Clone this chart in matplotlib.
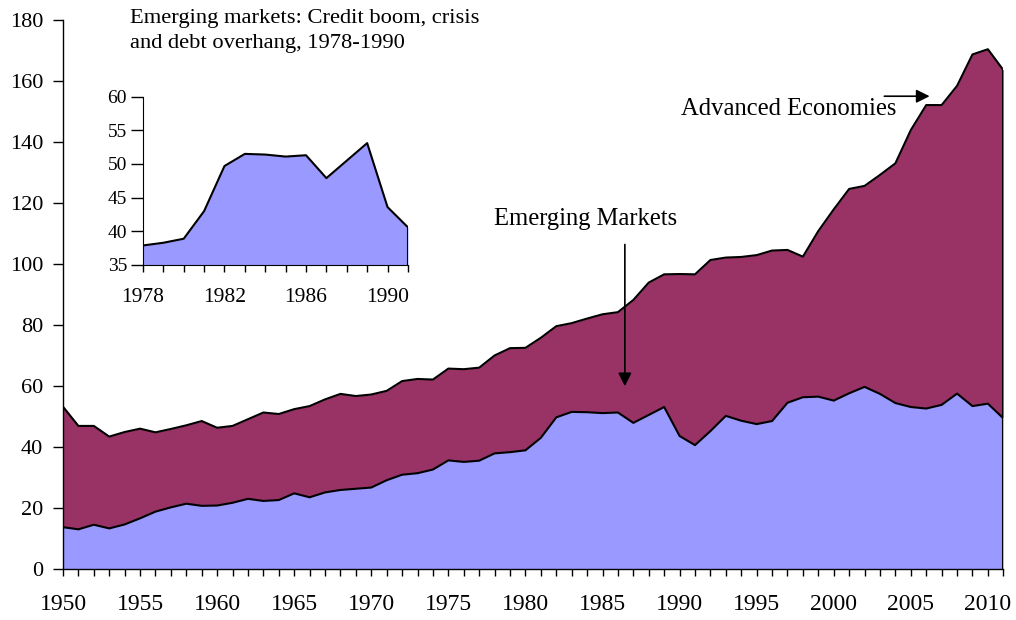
import matplotlib
matplotlib.use("Agg")
import matplotlib.pyplot as plt
import numpy as np

years = list(range(1950, 2012))
emerging = [13.7, 13.0, 14.5, 13.3, 14.6, 16.6, 18.8, 20.2, 21.4, 20.7,
            20.8, 21.7, 23.0, 22.3, 22.6, 24.8, 23.5, 25.1, 25.9, 26.3,
            26.7, 29.1, 30.9, 31.4, 32.6, 35.6, 35.1, 35.5, 37.9, 38.3,
            38.9, 43.0, 49.7, 51.5, 51.4, 51.1, 51.3, 47.9, 50.5, 53.1,
            43.6, 40.6, 45.2, 50.2, 48.6, 47.5, 48.5, 54.5, 56.3, 56.5,
            55.2, 57.6, 59.7, 57.4, 54.4, 53.1, 52.6, 53.8, 57.5, 53.4,
            54.2, 49.4]
total = [53.2, 46.9, 46.9, 43.4, 44.9, 46.0, 44.8, 45.9, 47.1, 48.5,
         46.3, 46.9, 49.1, 51.3, 50.8, 52.4, 53.4, 55.6, 57.4, 56.7,
         57.2, 58.4, 61.6, 62.3, 62.1, 65.7, 65.5, 66.0, 70.0, 72.4,
         72.5, 75.8, 79.6, 80.6, 82.1, 83.5, 84.2, 88.2, 93.9, 96.6,
         96.7, 96.6, 101.3, 102.1, 102.3, 102.9, 104.4, 104.6, 102.4, 110.8,
         117.9, 124.6, 125.6, 129.2, 133.0, 143.9, 152.1, 152.1, 158.4, 168.7,
         170.4, 163.6]
inset_start, inset_end = 1978, 1991
main_xlabels = [1950, 1955, 1960, 1965, 1970, 1975, 1980, 1985, 1990, 1995, 2000, 2005, 2010]
inset_xlabels = [1978, 1982, 1986, 1990]

BLUE = "#9999FF"
MAROON = "#993366"
plt.rcParams['font.family'] = ['Liberation Serif', 'DejaVu Serif']

fig = plt.figure(figsize=(10.16, 6.2), dpi=100)
ax = fig.add_axes([0.062, 0.0823, 0.9255, 0.8855])
x = np.array(years)
em = np.array(emerging)
tot = np.array(total)
ax.fill_between(x, em, tot, color=MAROON, lw=0)
ax.fill_between(x, 0, em, color=BLUE, lw=0)
ax.plot(x, tot, color='black', lw=1.5)
ax.plot(x, em, color='black', lw=1.5)
ax.plot([x[-1], x[-1]], [0, tot[-1]], color='black', lw=1.5)
ax.set_xlim(1950, 2011)
ax.set_ylim(0, 180)
ax.set_yticks(range(0, 181, 20))
ax.set_xticks(years, minor=True)
ax.set_xticks(main_xlabels)
ax.tick_params(axis='both', which='both', direction='out', width=1, colors='black')
ax.tick_params(axis='x', which='both', length=5)
ax.tick_params(axis='x', labelsize=17, pad=13)
ax.tick_params(axis='y', length=7.2, labelsize=16, pad=7)
for s in ['top', 'right']:
    ax.spines[s].set_visible(False)
ax.spines['left'].set_linewidth(1)
ax.spines['bottom'].set_linewidth(1)

ax.annotate("", xy=(1986.45, 59.0), xytext=(1986.45, 107.3),
            arrowprops=dict(arrowstyle='-|>', color='black', lw=1.2, mutation_scale=20))
ax.text(1977.97, 112.8, "Emerging Markets", fontsize=17.7, ha='left', va='baseline')
ax.annotate("", xy=(2006.4, 155.0), xytext=(2003.1, 155.0),
            arrowprops=dict(arrowstyle='-|>', color='black', lw=1.2, mutation_scale=20))
ax.text(1990.1, 148.9, "Advanced Economies", fontsize=17.7, ha='left', va='baseline')

fig.text(130/1016, 1 - 9.5/620, "Emerging markets: Credit boom, crisis\nand debt overhang, 1978-1990",
         fontsize=16.2, ha='left', va='top', linespacing=1.36)

ins = fig.add_axes([0.1407, 0.5726, 0.2608, 0.2715])
i0 = years.index(inset_start)
i1 = years.index(inset_end) + 1
ix = x[i0:i1]
iy = em[i0:i1]
ins.fill_between(ix, 35, iy, color=BLUE, lw=0)
ins.plot(ix, iy, color='black', lw=1.5)
ins.plot([ix[-1], ix[-1]], [35, iy[-1]], color='black', lw=1.5)
ins.set_xlim(inset_start, inset_end)
ins.set_ylim(35, 60)
ins.set_yticks(range(35, 61, 5))
ins.set_xticks(list(ix), minor=True)
ins.set_xticks(inset_xlabels)
ins.tick_params(axis='both', which='both', direction='out', width=1)
ins.tick_params(axis='x', which='both', length=5)
ins.tick_params(axis='x', labelsize=15.5, pad=11.5)
ins.tick_params(axis='y', length=9, labelsize=14, pad=2.5)
ins.patch.set_alpha(0)
for s in ['top', 'right']:
    ins.spines[s].set_visible(False)

fig.savefig("out.png", dpi=100)
